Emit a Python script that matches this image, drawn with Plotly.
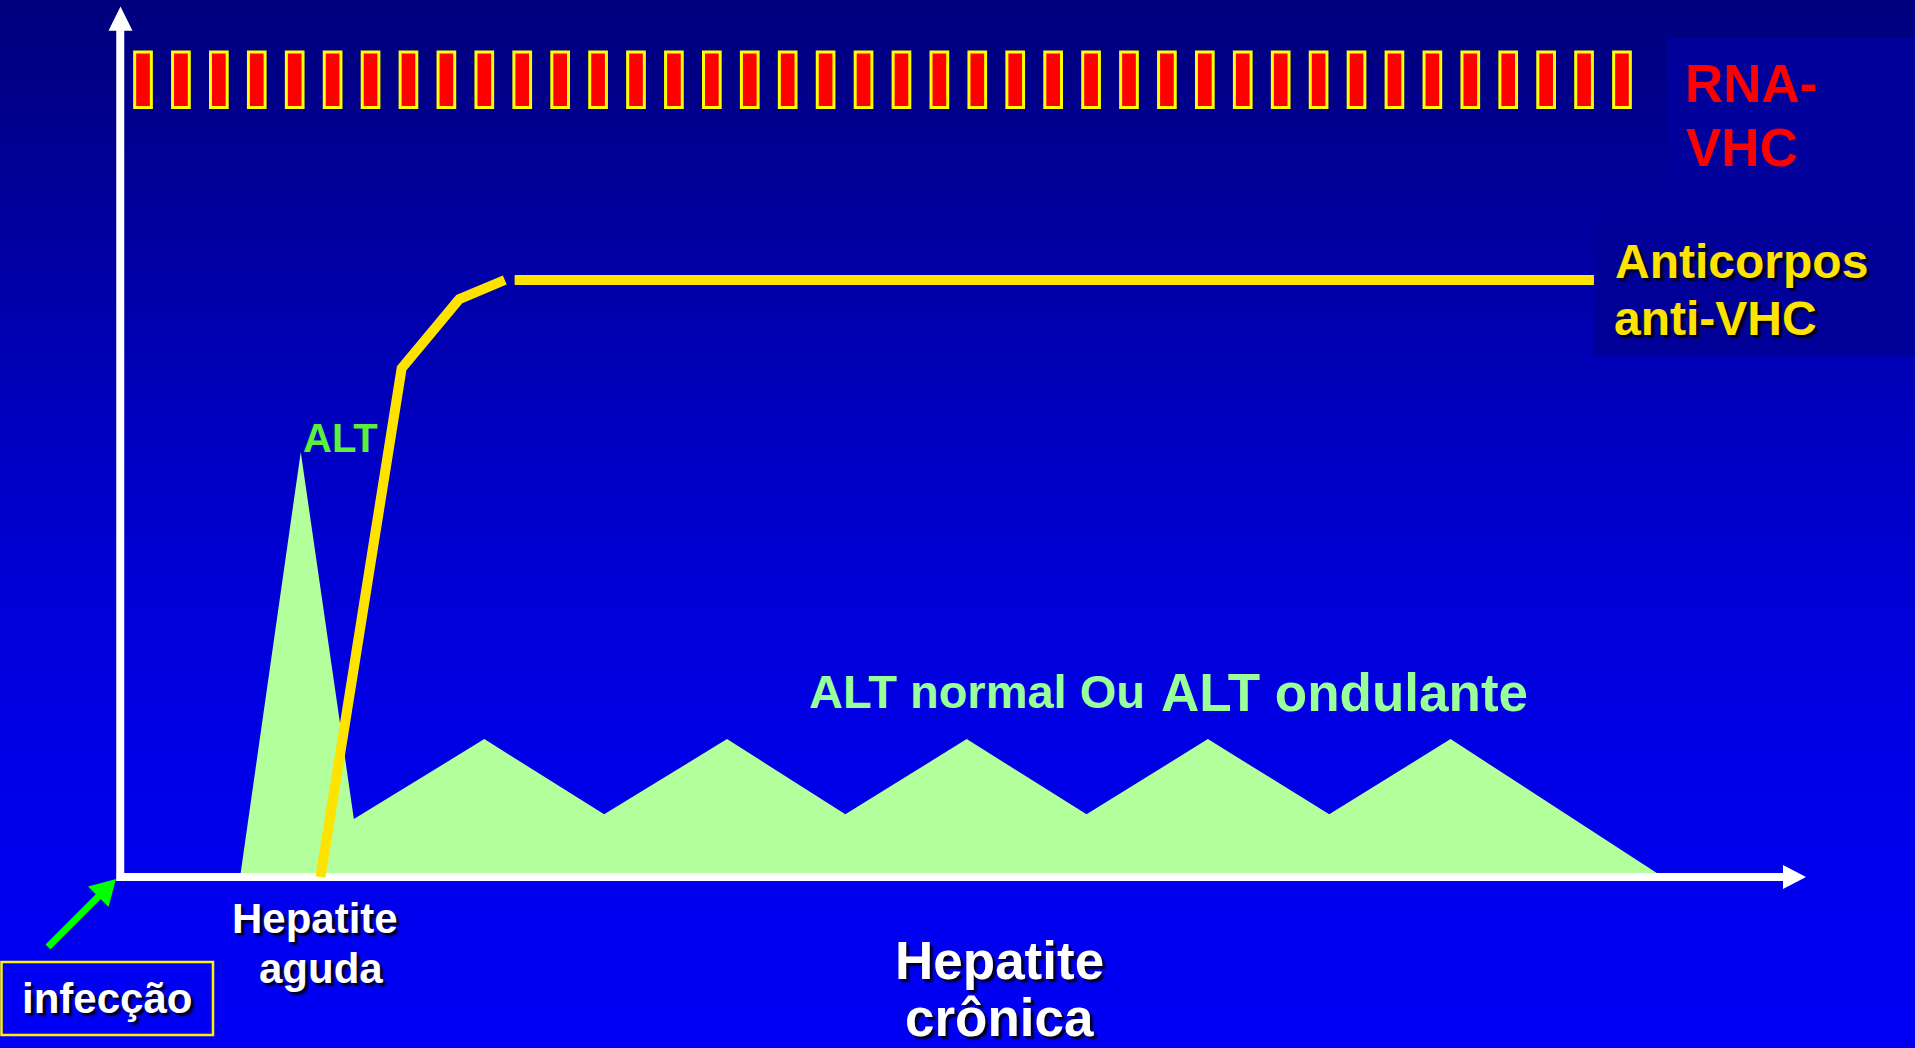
import plotly.graph_objects as go

# ---------------- data (schematic levels) ----------------
# time in arbitrary units (origin = axis crossing), level in arbitrary units
rna_t = [1.5, 4.0, 6.5, 9.0, 11.5, 14.0, 16.5, 19.0, 21.5, 24.0,
         26.5, 29.0, 31.5, 34.0, 36.5, 39.0, 41.5, 44.0, 46.5, 49.0,
         51.5, 54.0, 56.5, 59.0, 61.5, 64.0, 66.5, 69.0, 71.5, 74.0,
         76.5, 79.0, 81.5, 84.0, 86.5, 89.0, 91.5, 94.0, 96.5, 99.0]
rna_height = [9.3, 9.3, 9.3, 9.3, 9.3, 9.3, 9.3, 9.3, 9.3, 9.3,
              9.3, 9.3, 9.3, 9.3, 9.3, 9.3, 9.3, 9.3, 9.3, 9.3,
              9.3, 9.3, 9.3, 9.3, 9.3, 9.3, 9.3, 9.3, 9.3, 9.3,
              9.3, 9.3, 9.3, 9.3, 9.3, 9.3, 9.3, 9.3, 9.3, 9.3]
rna_base = 128.9

alt_t = [7.9, 11.9, 15.4, 24.0, 31.9, 40.0, 47.8, 55.8, 63.7, 71.7, 79.7, 87.7, 101.7]
alt_level = [0, 71.2, 9.7, 23.1, 10.5, 23.1, 10.5, 23.1, 10.5, 23.1, 10.5, 23.1, 0]

ab_rise_t = [13.2, 18.55, 22.35, 25.35]
ab_rise_level = [0, 85.2, 96.8, 100]
ab_plateau_t = [26.0, 97.15]
ab_plateau_level = [100, 100]

# ---------------- geometry / style ----------------
W, H = 1915, 1048
X0_PX, KX = 120.25, 15.169   # pixel of time 0, pixels per time unit
Y0_PX, KY = 877.0, 5.97      # pixel of level 0, pixels per level unit

FONT = "Liberation Sans, Arial, sans-serif"
ALT_FILL = "#B2FF9C"
YELLOW = "#FFE300"
SHADOW = "3px 3px 2px rgba(0,0,0,0.85)"


def px(x):
    return x / W


def py(y):
    return 1 - y / H


fig = go.Figure()

# ALT area
fig.add_trace(go.Scatter(x=alt_t, y=alt_level, mode="lines", fill="tozeroy",
                         fillcolor=ALT_FILL, line=dict(width=0, color=ALT_FILL),
                         hoverinfo="skip"))

# axis lines (drawn between ALT area and antibody line)
x_left = (116.7 - X0_PX) / KX
x_right = (1784 - X0_PX) / KX
y_bottom = (Y0_PX - 881) / KY
y_top = (Y0_PX - 29) / KY
fig.add_trace(go.Scatter(x=[x_left, x_right, None, 0, 0],
                         y=[0, 0, None, y_bottom, y_top],
                         mode="lines", line=dict(color="white", width=8),
                         hoverinfo="skip"))

# antibody line
fig.add_trace(go.Scatter(x=ab_rise_t + [None] + ab_plateau_t,
                         y=ab_rise_level + [None] + ab_plateau_level,
                         mode="lines", line=dict(color=YELLOW, width=10),
                         hoverinfo="skip"))

# RNA-VHC bars
fig.add_trace(go.Bar(x=rna_t, y=rna_height, base=rna_base, width=1.1,
                     marker=dict(color="#FF0000", line=dict(color="#FFFF00", width=3)),
                     hoverinfo="skip"))

shapes = []
# background gradient strips
stops = [(0, 126), (100, 138), (300, 170), (480, 200), (700, 226), (880, 238), (1048, 245)]


def blue_at(y):
    for (y1, b1), (y2, b2) in zip(stops[:-1], stops[1:]):
        if y1 <= y <= y2:
            return b1 + (b2 - b1) * (y - y1) / (y2 - y1)
    return stops[-1][1]


step = 4
for y in range(0, H, step):
    b = int(round(blue_at(y + step / 2)))
    shapes.append(dict(type="rect", xref="paper", yref="paper", layer="below",
                       x0=0, x1=1, y0=py(y + step + 0.5), y1=py(y),
                       line=dict(width=0), fillcolor=f"rgb(0,0,{b})"))

# label boxes
shapes.append(dict(type="rect", xref="paper", yref="paper", layer="below",
                   x0=px(1667), x1=1, y0=py(219), y1=py(38),
                   line=dict(width=0), fillcolor="#00009A"))
shapes.append(dict(type="rect", xref="paper", yref="paper", layer="below",
                   x0=px(1594), x1=1, y0=py(355), y1=py(219),
                   line=dict(width=0), fillcolor="#000099"))
shapes.append(dict(type="rect", xref="paper", yref="paper", layer="above",
                   x0=px(1.5), x1=px(213), y0=py(1035), y1=py(962),
                   line=dict(width=2.5, color="#FFF200"), fillcolor="rgba(0,0,0,0)"))


def tri(pts, color):
    path = "M " + " L ".join(f"{px(a):.6f},{py(b):.6f}" for a, b in pts) + " Z"
    return dict(type="path", xref="paper", yref="paper", layer="above", path=path,
                fillcolor=color, line=dict(width=0))


# axis arrow heads
shapes.append(tri([(120.5, 6.5), (108.5, 30.7), (132.5, 30.7)], "white"))
shapes.append(tri([(1806, 877), (1783, 865), (1783, 889)], "white"))

# green "infecção" arrow
tail = (48, 947)
tip = (116, 879)
dx, dy = tip[0] - tail[0], tip[1] - tail[1]
L = (dx ** 2 + dy ** 2) ** 0.5
ux, uy = dx / L, dy / L
head_len, head_half = 25, 14.5
bx, by = tip[0] - head_len * ux, tip[1] - head_len * uy
shapes.append(dict(type="line", xref="paper", yref="paper", layer="above",
                   x0=px(tail[0]), y0=py(tail[1]), x1=px(bx + ux * 2), y1=py(by + uy * 2),
                   line=dict(color="#00FF00", width=7)))
shapes.append(tri([tip, (bx - head_half * uy, by + head_half * ux),
                   (bx + head_half * uy, by - head_half * ux)], "#00FF00"))

annotations = []


def label(text, x, y, size, color, anchor="center", shadow=None):
    f = dict(family=FONT, size=size, color=color, weight="bold")
    if shadow:
        f["shadow"] = shadow
    annotations.append(dict(text=text, x=px(x), y=py(y), xref="paper", yref="paper",
                            xanchor=anchor, yanchor="middle", showarrow=False,
                            font=f, borderpad=0))


label("RNA-", 1684, 84, 53, "#FF0000", "left")
label("VHC", 1685, 147, 53, "#FF0000", "left")
label("Anticorpos", 1614, 261, 48, YELLOW, "left", SHADOW)
label("anti-VHC", 1613, 318, 48, YELLOW, "left", SHADOW)
label("ALT", 302, 438, 40, "#5BF03C", "left")
label("ALT normal Ou", 808, 691, 47, "#99FF99", "left")
label("ALT ondulante", 1160, 692, 53, "#99FF99", "left")
label("Hepatite", 315, 918, 42, "white", "center", SHADOW)
label("aguda", 321, 968, 42, "white", "center", SHADOW)
label("infecção", 107, 998, 42, "white", "center", SHADOW)
label("Hepatite", 999, 960, 53, "white", "center", SHADOW)
label("crônica", 999, 1017, 53, "white", "center", SHADOW)

fig.update_layout(
    width=W, height=H, autosize=False,
    margin=dict(l=0, r=0, t=0, b=0, pad=0),
    paper_bgcolor="#0000B8", plot_bgcolor="rgba(0,0,0,0)",
    showlegend=False, barmode="overlay",
    xaxis=dict(range=[(0 - X0_PX) / KX, (W - X0_PX) / KX], visible=False,
               fixedrange=True, domain=[0, 1]),
    yaxis=dict(range=[(Y0_PX - H) / KY, Y0_PX / KY], visible=False,
               fixedrange=True, domain=[0, 1]),
    shapes=shapes, annotations=annotations,
)

fig.write_html("out.html", config={"displayModeBar": False},
               post_script="document.body.style.margin='0';document.body.style.overflow='hidden';")
